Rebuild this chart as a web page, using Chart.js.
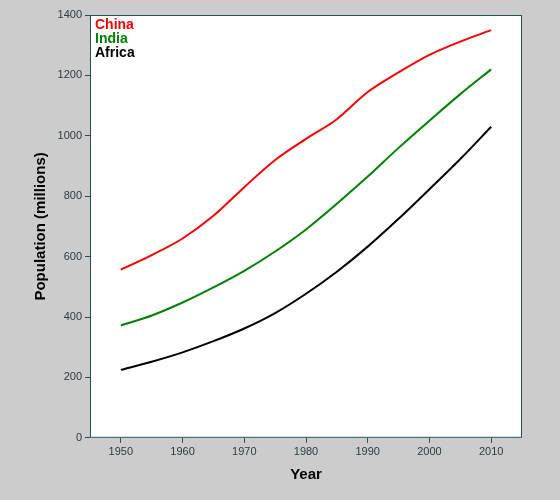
<!DOCTYPE html><html><head><style>html,body{margin:0;background:#cccccc;}#w{width:560px;height:500px;}</style>
<script src="https://cdn.jsdelivr.net/npm/chart.js@4"></script></head><body><div id="w"><canvas id="c"></canvas></div>
<script>
const years=[1950,1955,1960,1965,1970,1975,1980,1985,1990,1995,2000,2005,2010];
const china=[557,605,660,735,830,920,990,1055,1145,1210,1268,1312,1350];
const india=[372,405,448,498,553,617,690,775,865,960,1050,1138,1220];
const africa=[225,252,283,320,362,413,477,550,633,725,823,923,1030];
const xTicks=[1950,1960,1970,1980,1990,2000,2010];
const mk=a=>a.map((v,i)=>({x:years[i],y:v}));
const bg={id:'bg',beforeDraw(c){const a=c.chartArea,x=c.ctx;x.save();x.fillStyle='#fff';x.fillRect(a.left,a.top,a.right-a.left,a.bottom-a.top);x.restore();},
afterDraw(c){const a=c.chartArea,x=c.ctx;x.save();x.strokeStyle='#2a4f5a';x.lineWidth=1;x.strokeRect(a.left+0.5,a.top+0.5,a.right-a.left-1,a.bottom-a.top-1);
x.font='bold 14px "Liberation Sans",Arial';x.textBaseline='top';c.data.datasets.forEach((d,i)=>{x.fillStyle=d.borderColor;x.fillText(d.label,a.left+5,a.top+3+i*14);});x.restore();}};
const tf={size:11,family:'"Liberation Sans",Arial'};
new Chart(document.getElementById('c'),{type:'line',data:{datasets:[
{label:'China',data:mk(china),borderColor:'#ff0000'},
{label:'India',data:mk(india),borderColor:'#008000'},
{label:'Africa',data:mk(africa),borderColor:'#000000'}]},
options:{responsive:true,maintainAspectRatio:false,animation:false,
elements:{point:{radius:0},line:{tension:0.4,borderWidth:2,cubicInterpolationMode:'monotone'}},
layout:{padding:{top:15,right:38,left:28,bottom:12}},
plugins:{legend:{display:false},tooltip:{enabled:false}},
scales:{x:{type:'linear',min:1945,max:2015,afterBuildTicks(s){s.ticks=xTicks.map(v=>({value:v}));},
grid:{display:true,drawOnChartArea:false,drawTicks:true,tickLength:5,tickColor:'#2a4f5a'},border:{display:false},
ticks:{color:'#2b3a42',font:tf,callback:v=>String(v),maxRotation:0},
title:{display:true,text:'Year',color:'#000',font:{size:15,weight:'bold',family:'"Liberation Sans",Arial'}}},
y:{min:0,max:1400,ticks:{stepSize:200,color:'#2b3a42',font:tf,callback:v=>String(v)},
grid:{display:true,drawOnChartArea:false,drawTicks:true,tickLength:5,tickColor:'#2a4f5a'},border:{display:false},
title:{display:true,text:'Population (millions)',color:'#000',font:{size:15,weight:'bold',family:'"Liberation Sans",Arial'}},afterFit(s){s.width=62;}}}},
plugins:[bg]});
</script></body></html>
